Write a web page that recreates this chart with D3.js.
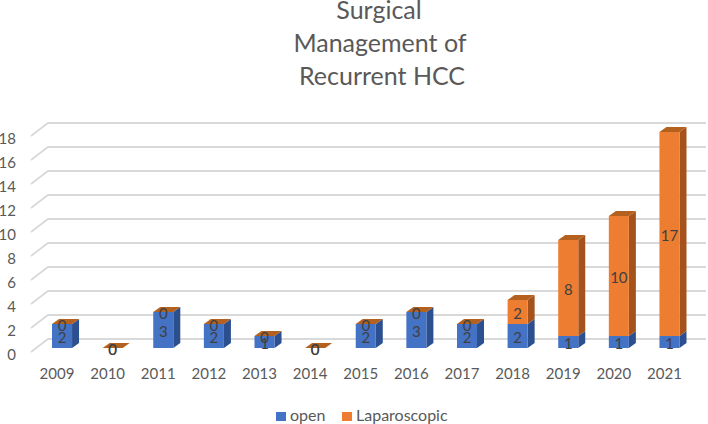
<!DOCTYPE html>
<html>
<head>
<meta charset="utf-8">
<script src="https://cdn.jsdelivr.net/npm/d3@7"></script>
<style>
  html, body { margin: 0; padding: 0; background: #fff; }
  svg { display: block; }
  text { font-family: Lato, "Open Sans", sans-serif; fill: #595959; }
</style>
</head>
<body>
<script>
var years = ["2009","2010","2011","2012","2013","2014","2015","2016","2017","2018","2019","2020","2021"]
var open = [2,0,3,2,1,0,2,3,2,2,1,1,1]
var laparoscopic = [0,0,0,0,0,0,0,0,0,2,8,10,17]
var yTicks = [0,2,4,6,8,10,12,14,16,18]
var titleLines = ["Surgical","Management of","Recurrent HCC"]
var seriesNames = ["open","Laparoscopic"]

var width = 708, height = 424
var depthX = 7, depthY = 5

var svg = d3.select("body").append("svg")
  .attr('width', width)
  .attr('height', height)

var x = d3.scaleBand().domain(years).range([52, 679.5]).paddingInner(0.604).paddingOuter(0)
var y = d3.scaleLinear().domain([0, 18]).range([348, 132])

// title
svg.selectAll(".title").data(titleLines).enter().append("text")
  .attr('class', 'title')
  .attr('x', function(d, i) { return [379, 380, 382][i] })
  .attr('y', function(d, i) { return 19 + i * 33 })
  .attr('text-anchor', 'middle')
  .style('font-size', '25px')
  .text(function(d) { return d })

// gridlines, back wall and left floor edge
var grid = svg.append("g").selectAll("g").data(yTicks).enter().append("g")
  .attr('fill', 'none')
  .attr('stroke', '#d9d9d9')
  .attr('stroke-width', 1.8)
grid.append("path").attr('d', function(d) {
  var yb = y(d) - 9
  return "M31," + (yb + 13) + "L48," + yb + "H706"
})

function face(color, points) {
  return function(sel) {
    sel.append("polygon").attr('fill', color).attr('points', points)
  }
}

// one stacked column
function drawBar(g, xl, y0, y1, front, side, top, drawTop) {
  var xr = xl + x.bandwidth()
  if (y0 != y1) {
    g.call(face(side, [[xr,y0],[xr+depthX,y0-depthY],[xr+depthX,y1-depthY],[xr,y1]].join(" ")))
    g.call(face(front, [[xl,y0],[xr,y0],[xr,y1],[xl,y1]].join(" ")))
  }
  if (drawTop) {
    g.call(face(top, [[xl,y1],[xr,y1],[xr+depthX,y1-depthY],[xl+depthX,y1-depthY]].join(" ")))
  }
}

var bars = svg.append("g")
years.forEach(function(yr, i) {
  var g = bars.append("g")
  var xl = x(yr)
  drawBar(g, xl, y(0), y(open[i]), "#4472c4", "#2c4f8f", "#4472c4", false)
  drawBar(g, xl, y(open[i]), y(open[i] + laparoscopic[i]), "#ed7d31", "#a5521d", "#b4601f", true)
})

// data labels
var labels = svg.append("g")
  .style('font-size', '15px')
  .attr('text-anchor', 'middle')
years.forEach(function(yr, i) {
  var cx = x(yr) + x.bandwidth() / 2
  labels.append("text").attr('x', cx)
    .attr('y', y(open[i] / 2) + 6.5)
    .style('fill', '#404040')
    .text(open[i])
  labels.append("text").attr('x', cx)
    .attr('y', y(open[i] + laparoscopic[i] / 2) + 6.5)
    .style('fill', '#404040')
    .text(laparoscopic[i])
})

// axes, text only
var yAxis = svg.append("g")
  .attr('transform', 'translate(16,6.5)')
  .call(d3.axisLeft(y).tickValues(yTicks).tickSize(0).tickPadding(0))
var xAxis = svg.append("g")
  .attr('transform', 'translate(-5,368)')
  .call(d3.axisBottom(x).tickSize(0).tickPadding(0))
yAxis.select(".domain").remove()
xAxis.select(".domain").remove()
svg.selectAll(".tick text")
  .style('font-size', '15px')
  .style('font-family', 'Lato, "Open Sans", sans-serif')
  .attr('fill', '#595959')

// legend
var legend = svg.append("g")
var legendSwatch = d3.scaleOrdinal().domain(seriesNames).range([276, 342])
var legendColor = d3.scaleOrdinal().domain(seriesNames).range(["#4472c4", "#ed7d31"])
seriesNames.forEach(function(n) {
  legend.append("rect")
    .attr('x', legendSwatch(n)).attr('y', 412)
    .attr('width', 10).attr('height', 9)
    .attr('fill', legendColor(n))
  legend.append("text")
    .attr('x', legendSwatch(n) + 14).attr('y', 421)
    .style('font-size', '16px')
    .text(n)
})
</script>
</body>
</html>
